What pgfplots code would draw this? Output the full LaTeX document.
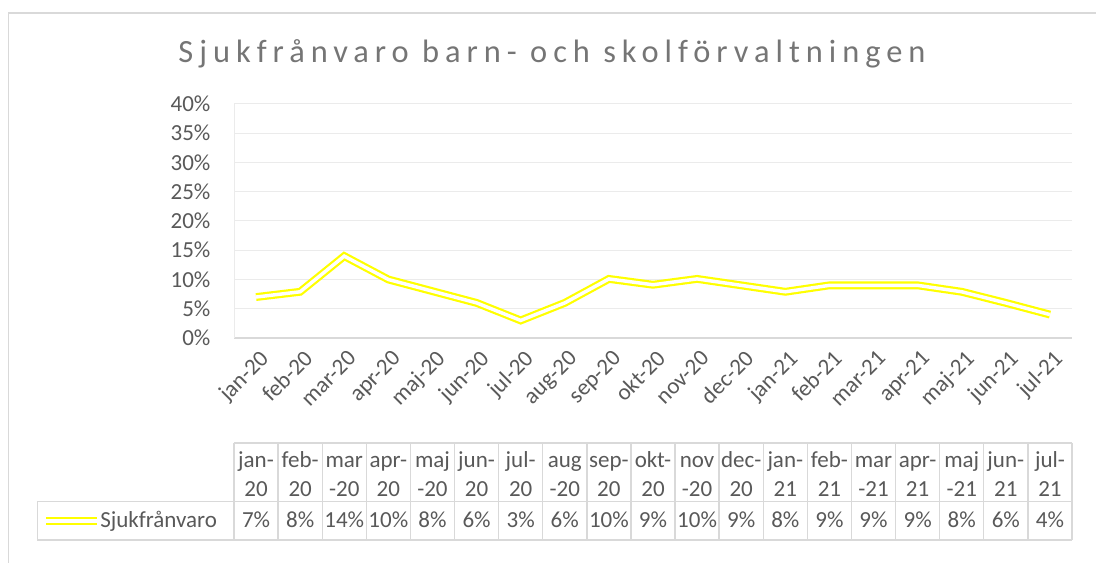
\documentclass[border=0pt]{standalone}
\usepackage{fontspec}
\setmainfont{Carlito}
\newfontfamily\titlefont[LetterSpace=18.5]{Carlito}
\usepackage{pgfplots}
\pgfplotsset{compat=1.18}
\usepackage{pgfplotstable}
\definecolor{txt}{HTML}{595959}
\definecolor{ttl}{HTML}{757575}
\definecolor{grd}{HTML}{EBEBEB}
\definecolor{frm}{HTML}{D9D9D9}
\definecolor{yel}{HTML}{FFFF00}

\pgfplotstableread{
x v
0 7.0
1 7.9
2 14.0
3 10.0
4 8.0
5 6.0
6 3.0
7 6.0
8 10.1
9 9.1
10 10.1
11 9.0
12 7.9
13 9.0
14 9.0
15 9.0
16 7.9
17 6.0
18 4.0
}\datatable

\begin{document}
\begin{tikzpicture}
\useasboundingbox (0,0) rectangle (822pt,422.25pt);
\begin{scope}
\clip (0,0) rectangle (822pt,422.25pt);
\draw[frm, line width=1pt] (6.4pt,-20pt) -- (6.4pt,412.5pt) -- (850pt,412.5pt);
\end{scope}
\node[anchor=base, text=ttl, inner sep=0pt, font=\titlefont\fontsize{24.3pt}{28pt}\selectfont] at (414pt,375pt) {Sjukfrånvaro barn- och skolförvaltningen};

\begin{axis}[
  at={(175.5pt,168.75pt)}, anchor=south west,
  scale only axis, width=628.5pt, height=175.5pt,
  xmin=-0.5, xmax=18.5, ymin=0, ymax=40,
  xtick={0,...,18},
  xticklabels={jan-20,feb-20,mar-20,apr-20,maj-20,jun-20,jul-20,aug-20,sep-20,okt-20,nov-20,dec-20,jan-21,feb-21,mar-21,apr-21,maj-21,jun-21,jul-21},
  ytick={0,5,...,40},
  yticklabels={0\%,5\%,10\%,15\%,20\%,25\%,30\%,35\%,40\%},
  ymajorgrids, grid style={grd, line width=0.75pt},
  separate axis lines,
  axis x line*=bottom, axis y line*=left,
  x axis line style={frm, line width=0.9pt, -},
  y axis line style={grd, line width=0.75pt, -},
  major tick length=0pt,
  tick label style={font=\fontsize{17.25pt}{20pt}\selectfont, text=txt},
  yticklabel style={anchor=east, inner sep=0pt, xshift=-17.5pt},
  xticklabel style={xshift=1.8pt, yshift=-8pt, rotate=45, anchor=north east, inner sep=0pt},
  clip=false,
]
\addplot[yel, no markers, line width=1.65pt, double=white, double distance=2.6pt] table[x=x,y=v]{\datatable};
\end{axis}

% data table
\def\cw{33.0789pt}
\draw[frm, line width=1pt] (175.5pt,90pt) -- (804pt,90pt);
\draw[frm, line width=1pt] (28.1pt,46.1pt) -- (804pt,46.1pt);
\draw[frm, line width=1pt] (28.1pt,17.25pt) -- (804pt,17.25pt);
\draw[frm, line width=1pt] (28.1pt,46.1pt) -- (28.1pt,17.25pt);
\foreach \i in {0,...,19}{
  \draw[frm, line width=1pt] ({175.5pt+\cw*\i},90pt) -- ({175.5pt+\cw*\i},17.25pt);
}
\foreach \a/\b/\v [count=\i from 0] in {jan-/20/7\%,feb-/20/8\%,mar/-20/14\%,apr-/20/10\%,maj/-20/8\%,jun-/20/6\%,jul-/20/3\%,aug/-20/6\%,sep-/20/10\%,okt-/20/9\%,nov/-20/10\%,dec-/20/9\%,jan-/21/8\%,feb-/21/9\%,mar/-21/9\%,apr-/21/9\%,maj/-21/8\%,jun-/21/6\%,jul-/21/4\%}{
  \node[anchor=base, inner sep=0pt, text=txt, font=\fontsize{17.25pt}{20pt}\selectfont] at ({175.5pt+\cw*(\i+0.5)},71.25pt) {\a};
  \node[anchor=base, inner sep=0pt, text=txt, font=\fontsize{17.25pt}{20pt}\selectfont] at ({175.5pt+\cw*(\i+0.5)},49.5pt) {\b};
  \node[anchor=base, inner sep=0pt, text=txt, font=\fontsize{17.25pt}{20pt}\selectfont] at ({175.5pt+\cw*(\i+0.5)},26.25pt) {\v};
}
\draw[yel, line width=1.4pt, double=white, double distance=2.8pt] (34.5pt,31.5pt) -- (73.1pt,31.5pt);
\node[anchor=west, inner sep=0pt, text=txt, font=\fontsize{17.25pt}{20pt}\selectfont] at (75pt,31.5pt) {Sjukfrånvaro};
\end{tikzpicture}
\end{document}
